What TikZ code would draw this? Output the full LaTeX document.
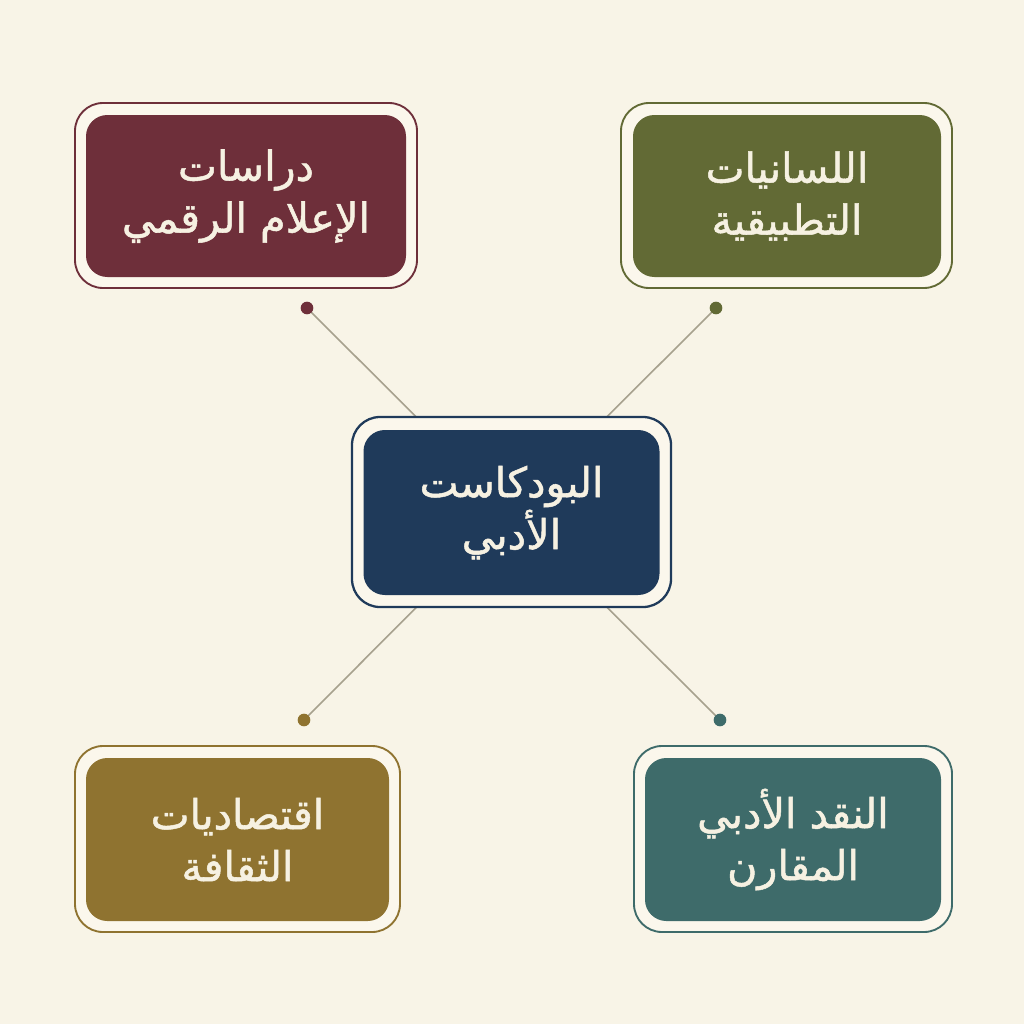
\documentclass[tikz,border=0pt]{standalone}
\usepackage{fontspec}
\usetikzlibrary{backgrounds}
\TeXXeTstate=1
\newfontfamily\arabicfont[Script=Arabic,FakeBold=1.2]{DejaVu Sans}
\newcommand{\arl}[1]{\beginR #1\endR}
\definecolor{bgc}{HTML}{F8F4E7}
\definecolor{cream}{HTML}{FBF7EC}
\definecolor{txt}{HTML}{F6F1E2}
\definecolor{navy}{HTML}{1F3A5A}
\definecolor{wine}{HTML}{6E2F3A}
\definecolor{olive}{HTML}{626A35}
\definecolor{ochre}{HTML}{8F7330}
\definecolor{teal}{HTML}{3E6B6A}
\definecolor{linec}{HTML}{A7A18E}
\pgfdeclarelayer{bottom}
\pgfsetlayers{bottom,background,main}
\tikzset{
  outerbox/.style={draw=#1, line width=1.4pt, fill=cream, rounded corners=21pt, inner sep=0pt},
  innerbox/.style={fill=#1, rounded corners=16pt, inner sep=0pt, text=txt, align=center,
    font=\arabicfont\fontsize{31}{39}\selectfont},
  dotn/.style={circle, fill=#1, inner sep=0pt, minimum size=9.5pt},
  conn/.style={draw=linec, line width=1.2pt}
}
\begin{document}
\begin{tikzpicture}[x=0.75pt,y=-0.75pt]
\begin{pgfonlayer}{bottom}
\fill[bgc] (0,0) rectangle (1024,1024);
\end{pgfonlayer}
\useasboundingbox (0,0) rectangle (1024,1024);

% centre
\node[outerbox=navy, line width=1.7pt, minimum width=239.25pt, minimum height=142.5pt] (co) at (511.5,512) {};
\node[innerbox=navy, minimum width=222pt, minimum height=123.75pt] (ci) at (511.5,512.5)
  {\arl{البودكاست}\\\arl{الأدبي}};

% top left
\node[outerbox=wine, minimum width=256.5pt, minimum height=138.75pt] (tlo) at (246,195.5) {};
\node[innerbox=wine, minimum width=240pt, minimum height=121.5pt] (tli) at (246,196)
  {\arl{دراسات}\\\arl{الإعلام الرقمي}};

% top right
\node[outerbox=olive, minimum width=248.25pt, minimum height=138.75pt] (tro) at (786.5,195.5) {};
\node[innerbox=olive, minimum width=231pt, minimum height=121.5pt] (tri) at (787,196)
  {\arl{اللسانيات}\\\arl{التطبيقية}};

% bottom left
\node[outerbox=ochre, minimum width=243.75pt, minimum height=139.5pt] (blo) at (237.5,839) {};
\node[innerbox=ochre, minimum width=227.25pt, minimum height=122.25pt] (bli) at (237.5,839.5)
  {\arl{اقتصاديات}\\\arl{الثقافة}};

% bottom right
\node[outerbox=teal, minimum width=238.5pt, minimum height=139.5pt] (bro) at (793,839) {};
\node[innerbox=teal, minimum width=222pt, minimum height=122.25pt] (bri) at (793,839.5)
  {\arl{النقد الأدبي}\\\arl{المقارن}};

% dots
\node[dotn=wine] (d1) at (307,308) {};
\node[dotn=olive] (d2) at (716,308) {};
\node[dotn=ochre] (d3) at (304,720) {};
\node[dotn=teal] (d4) at (720,720) {};

\begin{pgfonlayer}{background}
\draw[conn] (d1.center) -- (co.center);
\draw[conn] (d2.center) -- (co.center);
\draw[conn] (d3.center) -- (co.center);
\draw[conn] (d4.center) -- (co.center);
\end{pgfonlayer}
\end{tikzpicture}
\end{document}
